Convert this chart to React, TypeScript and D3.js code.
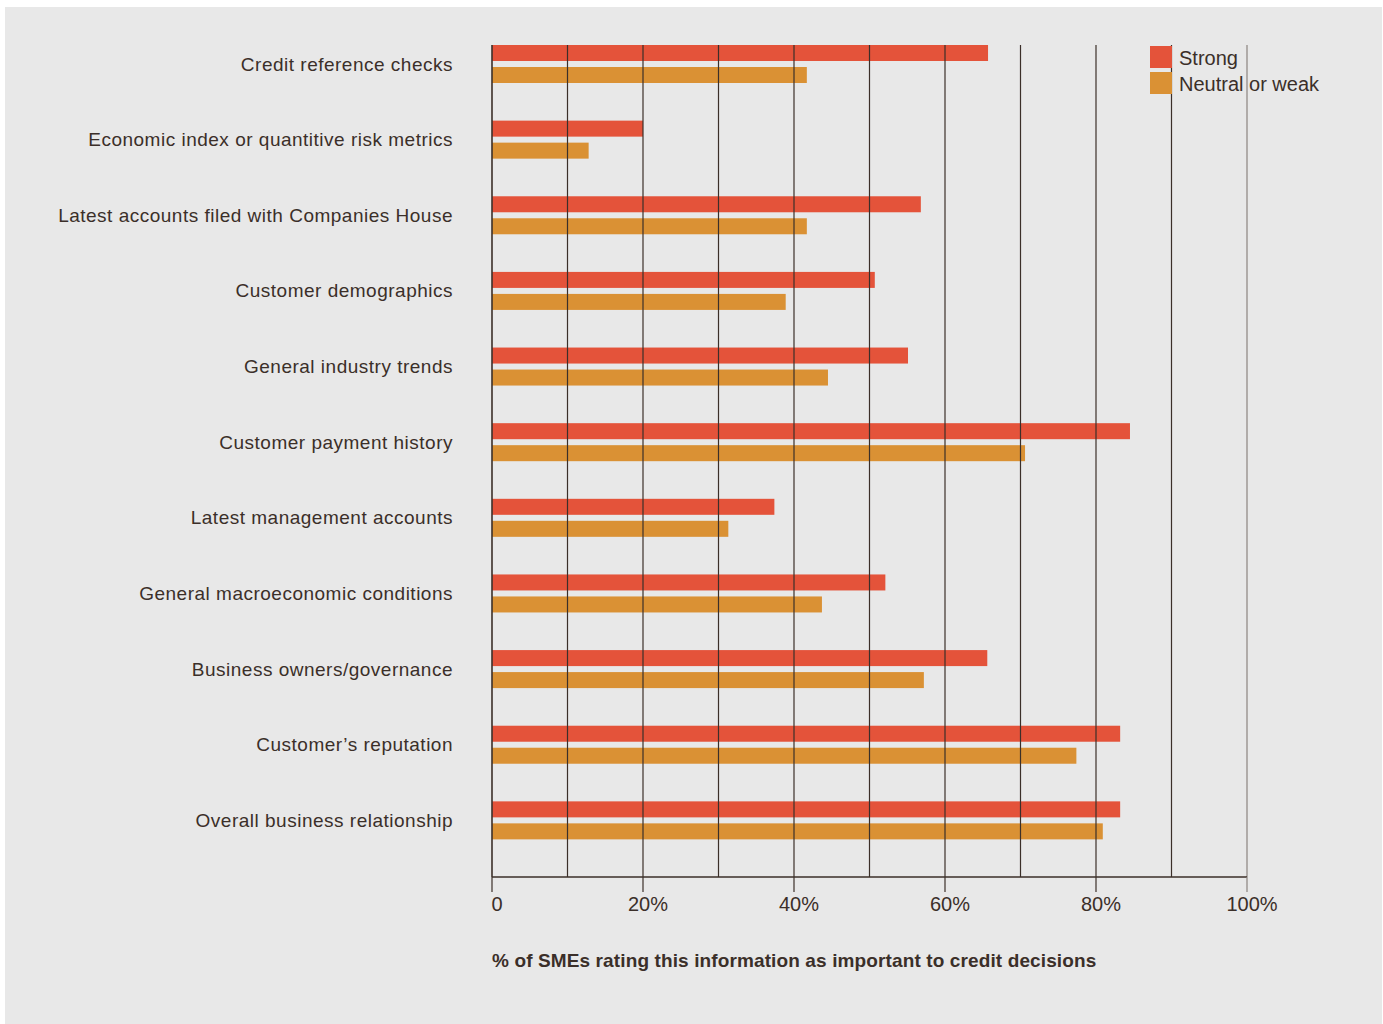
import React from "react";
import * as d3 from "d3";

const categories = [
  "Credit reference checks",
  "Economic index or quantitive risk metrics",
  "Latest accounts filed with Companies House",
  "Customer demographics",
  "General industry trends",
  "Customer payment history",
  "Latest management accounts",
  "General macroeconomic conditions",
  "Business owners/governance",
  "Customer\u2019s reputation",
  "Overall business relationship",
];
const strongValues = [65.7, 20, 56.8, 50.7, 55.1, 84.5, 37.4, 52.1, 65.6, 83.2, 83.2];
const weakValues = [41.7, 12.8, 41.7, 38.9, 44.5, 70.6, 31.3, 43.7, 57.2, 77.4, 80.9];
const gridTicks = [0, 10, 20, 30, 40, 50, 60, 70, 80, 90, 100];
const labelTicks = [0, 20, 40, 60, 80, 100];
const seriesNames = ["Strong", "Neutral or weak"];

const RED = "#e4533a";
const ORANGE = "#da9134";
const INK = "#3b2f29";
const FONT = "'Liberation Sans', Arial, sans-serif";

export default function App() {
  const x = d3.scaleLinear().domain([0, 100]).range([492, 1247]);
  const y = d3.scaleBand<string>().domain(categories).range([45, 877]).paddingInner(0).paddingOuter(0);
  const barH = 16;
  const gap = 6;

  return (
    <svg width={1383} height={1024} style={{ position: "absolute", left: 0, top: 0 }} fontFamily={FONT}>
      <rect x={0} y={0} width={1383} height={1024} fill="#ffffff" />
      <rect x={5} y={7} width={1377} height={1017} fill="#e8e8e8" />

      {categories.map((c, i) => (
        <g key={c}>
          <rect x={x(0)} y={y(c)!} width={x(strongValues[i]) - x(0)} height={barH} fill={RED} />
          <rect x={x(0)} y={y(c)! + barH + gap} width={x(weakValues[i]) - x(0)} height={barH} fill={ORANGE} />
          <text x={453} y={y(c)! + 25.5} textAnchor="end" fontSize={19} letterSpacing={0.5} fill={INK}>
            {c}
          </text>
        </g>
      ))}

      {gridTicks.map((t) => (
        <line
          key={t}
          x1={x(t)}
          x2={x(t)}
          y1={45}
          y2={877}
          stroke={t === 100 ? "#8a837f" : INK}
          strokeWidth={t === 0 ? 1.6 : 1.2}
        />
      ))}
      <line x1={x(0)} x2={x(100)} y1={877} y2={877} stroke={INK} strokeWidth={1.4} />
      {labelTicks.map((t) => (
        <g key={t}>
          <line x1={x(t)} x2={x(t)} y1={877} y2={892} stroke={t === 100 ? "#8a837f" : INK} strokeWidth={1.2} />
          <text x={x(t) + 5} y={911} textAnchor="middle" fontSize={20} fill={INK}>
            {t === 0 ? "0" : `${t}%`}
          </text>
        </g>
      ))}

      <text x={492} y={967} fontSize={19} fontWeight="bold" letterSpacing={0.12} fill={INK}>
        % of SMEs rating this information as important to credit decisions
      </text>

      {seriesNames.map((s, i) => (
        <g key={s}>
          <rect x={1150} y={46 + i * 26} width={22} height={22} fill={i === 0 ? RED : ORANGE} />
          <text x={1179} y={65 + i * 26} fontSize={20} fill={INK}>
            {s}
          </text>
        </g>
      ))}
    </svg>
  );
}
